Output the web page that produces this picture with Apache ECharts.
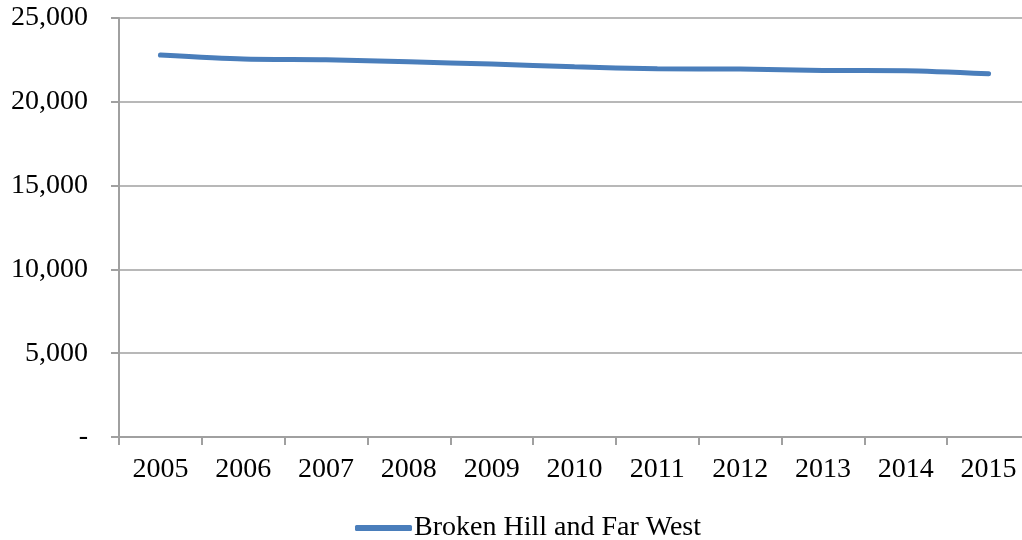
<!DOCTYPE html>
<html>
<head>
<meta charset="utf-8">
<script src="https://cdn.jsdelivr.net/npm/echarts@6/dist/echarts.min.js"></script>
<style>
  html, body { margin: 0; padding: 0; background: #fff; }
  #chart { width: 1022px; height: 540px; }
</style>
</head>
<body>
<div id="chart"></div>
<script>
// Population, Broken Hill and Far West region, 2005-2015
const years = ['2005', '2006', '2007', '2008', '2009', '2010', '2011', '2012', '2013', '2014', '2015'];
const population = [22790, 22550, 22510, 22390, 22250, 22090, 21970, 21950, 21870, 21850, 21670];
const seriesName = 'Broken Hill and Far West';
const yTicks = [0, 5000, 10000, 15000, 20000, 25000];

const FONT = '"Liberation Serif", "DejaVu Serif", serif';
const GREY = '#a0a0a0';
const BLUE = '#4a7ebb';

const chart = echarts.init(document.getElementById('chart'));
chart.setOption({
  animation: false,
  textStyle: { fontFamily: FONT, color: '#000' },
  // plot area runs a little past the right edge of the canvas
  grid: { left: 119, width: 911, top: 18, bottom: 103, containLabel: false, outerBoundsMode: 'none' },
  legend: {
    data: [{ name: seriesName, icon: 'roundRect' }],
    left: 350,
    top: 509,
    itemWidth: 57,
    itemHeight: 6,
    itemGap: 10,
    itemStyle: { color: BLUE },
    textStyle: { fontFamily: FONT, fontSize: 28, color: '#000', padding: [0, 0, 0, -3] }
  },
  xAxis: {
    type: 'category',
    data: years,
    boundaryGap: true,
    axisLine: { lineStyle: { color: GREY, width: 2 } },
    axisTick: { show: true, length: 8, lineStyle: { color: GREY, width: 2 } },
    axisLabel: { fontFamily: FONT, fontSize: 28, color: '#000', margin: 19 },
    splitLine: { show: false }
  },
  yAxis: {
    type: 'value',
    min: yTicks[0],
    max: yTicks[yTicks.length - 1],
    interval: yTicks[1] - yTicks[0],
    axisLine: { show: true, lineStyle: { color: GREY, width: 2 } },
    axisTick: { show: true, length: 8, lineStyle: { color: GREY, width: 2 } },
    axisLabel: {
      fontFamily: FONT, fontSize: 28, color: '#000', margin: 31,
      formatter: v => v === 0 ? '-' : v.toLocaleString('en-US')
    },
    splitLine: { show: true, lineStyle: { color: GREY, width: 1.5 } }
  },
  series: [{
    name: seriesName,
    type: 'line',
    data: population,
    symbol: 'none',
    smooth: 0.25,
    lineStyle: { color: BLUE, width: 5, cap: 'round' },
    itemStyle: { color: BLUE }
  }]
});
</script>
</body>
</html>
